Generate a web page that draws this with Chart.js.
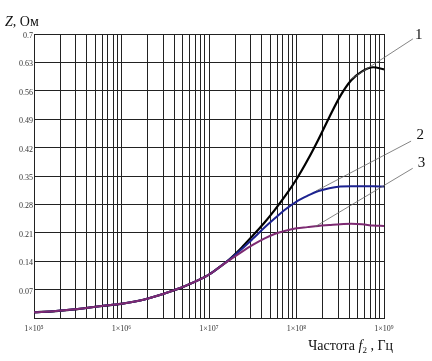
<!DOCTYPE html>
<html>
<head>
<meta charset="utf-8">
<script src="https://cdn.jsdelivr.net/npm/chart.js@4/dist/chart.umd.min.js"></script>
<style>
html,body{margin:0;padding:0;background:#fff;}
#wrap{width:432px;height:361px;position:relative;}
</style>
</head>
<body>
<div id="wrap"><canvas id="c" width="432" height="361"></canvas></div>
<script>
// Frequency, Hz
const freq = [1e5, 1.78e5, 3.16e5, 5.62e5, 1e6, 1.78e6, 3.16e6, 5.62e6, 1e7, 1.33e7,
  1.78e7, 2.37e7, 3.16e7, 4.22e7, 5.62e7, 7.5e7, 1e8, 1.33e8, 1.78e8, 2.37e8,
  3.16e8, 4.22e8, 5.62e8, 7.5e8, 1e9];
// Z, Ohm - curve 1 (black)
const z1 = [0.014, 0.017, 0.022, 0.029, 0.035, 0.045, 0.061, 0.081, 0.107, 0.126,
  0.148, 0.174, 0.203, 0.233, 0.266, 0.302, 0.342, 0.388, 0.440, 0.495,
  0.547, 0.586, 0.608, 0.618, 0.613];
// curve 2 (blue)
const z2 = [0.014, 0.017, 0.022, 0.029, 0.035, 0.045, 0.061, 0.081, 0.107, 0.126,
  0.147, 0.170, 0.195, 0.221, 0.245, 0.268, 0.287, 0.301, 0.313, 0.320,
  0.324, 0.325, 0.325, 0.325, 0.324];
// curve 3 (purple)
const z3 = [0.014, 0.017, 0.022, 0.029, 0.035, 0.045, 0.061, 0.081, 0.107, 0.126,
  0.145, 0.163, 0.180, 0.195, 0.207, 0.215, 0.221, 0.224, 0.227, 0.229,
  0.231, 0.232, 0.231, 0.228, 0.227];
// Axis ticks
const xTicks = [1e5,2e5,3e5,4e5,5e5,6e5,7e5,8e5,9e5,
  1e6,2e6,3e6,4e6,5e6,6e6,7e6,8e6,9e6,
  1e7,2e7,3e7,4e7,5e7,6e7,7e7,8e7,9e7,
  1e8,2e8,3e8,4e8,5e8,6e8,7e8,8e8,9e8,1e9];
const xTickLabels = {1e5:'1×10⁵', 1e6:'1×10⁶', 1e7:'1×10⁷', 1e8:'1×10⁸', 1e9:'1×10⁹'};
const yTicks = [0, 0.07, 0.14, 0.21, 0.28, 0.35, 0.42, 0.49, 0.56, 0.63, 0.7];
const yTickLabels = ['', '0.07', '0.14', '0.21', '0.28', '0.35', '0.42', '0.49', '0.56', '0.63', '0.7'];
// Curve labels with leader lines (data coordinates)
const curveLabels = ['1', '2', '3'];
const leaderStart = [[2.14e9, 0.688], [2.04e9, 0.436], [2.13e9, 0.369]];
const leaderEnd = [[4.08e8, 0.587], [1.67e8, 0.313], [1.63e8, 0.225]];
const labelPos = [[2.5e9, 0.697], [2.6e9, 0.451], [2.68e9, 0.383]];

const serif = '"Liberation Serif", "DejaVu Serif", serif';

const toPts = arr => freq.map((f, i) => ({x: f, y: arr[i]}));

const deco = {
  id: 'deco',
  afterDraw(chart) {
    const {ctx, chartArea: a, scales: {x, y}} = chart;
    ctx.save();
    // leader lines
    ctx.strokeStyle = '#666';
    ctx.lineWidth = 0.8;
    for (let i = 0; i < curveLabels.length; i++) {
      ctx.beginPath();
      ctx.moveTo(x.getPixelForValue(leaderStart[i][0]), y.getPixelForValue(leaderStart[i][1]));
      ctx.lineTo(x.getPixelForValue(leaderEnd[i][0]), y.getPixelForValue(leaderEnd[i][1]));
      ctx.stroke();
      ctx.fillStyle = '#111';
      ctx.font = '15px ' + serif;
      ctx.textAlign = 'center';
      ctx.textBaseline = 'middle';
      ctx.fillText(curveLabels[i], x.getPixelForValue(labelPos[i][0]), y.getPixelForValue(labelPos[i][1]));
    }
    // Y axis title "Z, Ом"
    ctx.textAlign = 'left';
    ctx.textBaseline = 'alphabetic';
    ctx.fillStyle = '#111';
    let px = a.left - 29, py = a.top - 8;
    ctx.font = 'italic 14px ' + serif;
    ctx.fillText('Z', px, py);
    px += ctx.measureText('Z').width;
    ctx.font = '14px ' + serif;
    ctx.fillText(', Ом', px, py);
    // X axis title "Частота f2 , Гц"
    const parts = [
      {t: 'Частота ', f: '14px ' + serif, dy: 0},
      {t: 'f', f: 'italic 14px ' + serif, dy: 0},
      {t: '2', f: '9px ' + serif, dy: 3},
      {t: ' , Гц', f: '14px ' + serif, dy: 0}
    ];
    let total = 0;
    parts.forEach(p => { ctx.font = p.f; total += ctx.measureText(p.t).width; });
    px = a.right + 9 - total; py = a.bottom + 32;
    parts.forEach(p => { ctx.font = p.f; ctx.fillText(p.t, px, py + p.dy); px += ctx.measureText(p.t).width; });
    ctx.restore();
  }
};

new Chart(document.getElementById('c'), {
  type: 'line',
  data: {
    datasets: [
      {label: '3', data: toPts(z3), borderColor: '#7d2a72', borderWidth: 2},
      {label: '2', data: toPts(z2), borderColor: '#1c2290', borderWidth: 2},
      {label: '1', data: toPts(z1), borderColor: '#000000', borderWidth: 2.2}
    ]
  },
  options: {
    responsive: false,
    animation: false,
    parsing: false,
    layout: {padding: {left: 0, top: 34, right: 48, bottom: 0}},
    elements: {point: {radius: 0}, line: {cubicInterpolationMode: 'monotone'}},
    plugins: {legend: {display: false}, tooltip: {enabled: false}, title: {display: false}},
    scales: {
      x: {
        type: 'logarithmic',
        min: 1e5, max: 1e9,
        afterBuildTicks: s => { s.ticks = xTicks.map(v => ({value: v})); },
        afterFit: s => { s.height = 43; },
        grid: {color: '#222', lineWidth: 1, drawTicks: false},
        border: {color: '#222'},
        ticks: {
          autoSkip: false, maxRotation: 0, padding: 6,
          color: '#333', font: {family: serif, size: 8},
          callback: v => xTickLabels[v] || ''
        }
      },
      y: {
        type: 'linear',
        min: 0, max: 0.7,
        afterBuildTicks: s => { s.ticks = yTicks.map(v => ({value: v})); },
        afterFit: s => { s.width = 34; },
        grid: {color: '#222', lineWidth: 1, drawTicks: false},
        border: {color: '#222'},
        ticks: {
          padding: 1, labelOffset: 2,
          color: '#333', font: {family: serif, size: 8},
          callback: (v, i) => yTickLabels[i]
        }
      }
    }
  },
  plugins: [deco]
});
</script>
</body>
</html>
